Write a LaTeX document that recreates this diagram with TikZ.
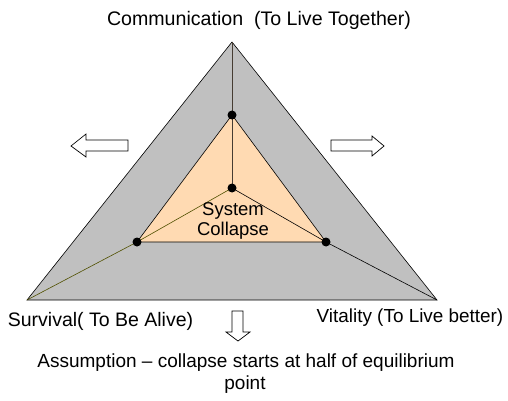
\documentclass[tikz,border=0pt]{standalone}
\usepackage{fontspec}
\setmainfont{Liberation Sans}
\definecolor{outergray}{RGB}{192,192,192}
\definecolor{peach}{RGB}{255,218,178}
\definecolor{olive}{RGB}{80,80,0}
\definecolor{stemgray}{RGB}{70,60,50}
\begin{document}
\begin{tikzpicture}[x=1pt,y=-1pt,
  lbl/.style={font=\fontsize{#1}{22}\selectfont, inner sep=0pt, align=center},
  lbl/.default=18.5,
  dot/.style={circle, fill=black, inner sep=0pt, minimum size=9pt},
  blockarrow/.style={draw=black, fill=white, line width=0.7pt},
]
\useasboundingbox (0,0) rectangle (508,401);
% outer triangle
\coordinate (A) at (232,42);
\coordinate (L) at (27,300);
\coordinate (R) at (437,300);
\coordinate (it) at (232,115);
\coordinate (il) at (137,242);
\coordinate (ir) at (326,242);
\coordinate (c) at (232,188);
\filldraw[fill=outergray, draw=black, line width=0.6pt] (A) -- (R) -- (L) -- cycle;
\filldraw[fill=peach, draw=black, line width=0.6pt] (it) -- (ir) -- (il) -- cycle;
\draw[stemgray, line width=0.8pt] (A) -- (c);
\draw[olive, line width=0.6pt] (c) -- (il) -- (L);
\draw[black, line width=0.6pt] (c) -- (ir) -- (R);
\node[dot] (dt) at (it) {};
\node[dot] (dl) at (il) {};
\node[dot] (dr) at (ir) {};
\node[dot] (dc) at (c) {};
\node[lbl] (sys) at (233,221) {System\\[-2pt]Collapse};
% block arrows
\draw[blockarrow] (71,146) -- (86,134) -- (86,140) -- (128,140) -- (128,151) -- (86,151) -- (86,157) -- cycle;
\draw[blockarrow] (384,146) -- (372,136) -- (372,140) -- (331,140) -- (331,151) -- (372,151) -- (372,156) -- cycle;
\draw[blockarrow] (238,341) -- (226,332) -- (232,332) -- (232,311) -- (243,311) -- (243,332) -- (250,332) -- cycle;
% labels
\node[lbl=19.6] (top) at (259,20) {Communication\ \ (To Live Together)};
\node[lbl=19.5] (surv) at (100.5,321.5) {Survival( To Be Alive)};
\node[lbl=18.9] (vit) at (410,317.5) {Vitality (To Live better)};
\node[lbl=19, anchor=base] (assm) at (246,367) {Assumption -- collapse starts at half of equilibrium};
\node[lbl=19, anchor=base] (assm2) at (245,389) {point};
\end{tikzpicture}
\end{document}
